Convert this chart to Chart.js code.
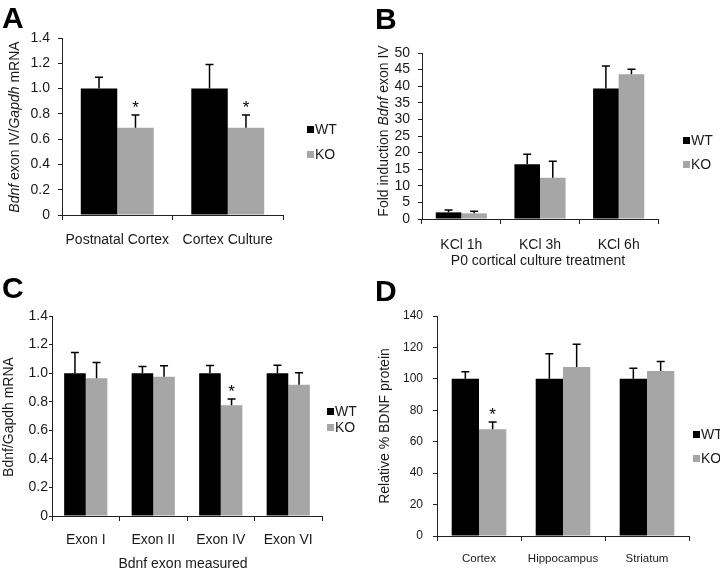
<!DOCTYPE html>
<html>
<head>
<meta charset="utf-8">
<script src="https://cdn.jsdelivr.net/npm/chart.js@4.4.0/dist/chart.umd.min.js"></script>
<style>
  body { margin: 0; background: #fff; }
  #fig { position: relative; width: 720px; height: 571px; overflow: hidden; font-family: "Liberation Sans", Arial, sans-serif; color: #1a1a1a; }
  canvas { position: absolute; }
  .letter { position: absolute; font-size: 30px; line-height: 30px; font-weight: bold; color: #000; }
  .ytitle { position: absolute; font-size: 14px; white-space: nowrap; transform: translate(-50%, -50%) rotate(-90deg); }
  .xtitle { position: absolute; font-size: 14px; line-height: 16px; white-space: nowrap; transform: translate(-50%, -50%); }
  .leg { position: absolute; height: 16px; line-height: 16px; font-size: 14px; display: flex; align-items: center; white-space: nowrap; }
  .leg span { display: inline-block; width: 7px; height: 7px; margin-right: 1px; }
</style>
</head>
<body>
<div id="fig">
  <canvas id="chartA" width="360" height="280" style="left:0;top:0"></canvas>
  <canvas id="chartB" width="360" height="280" style="left:360px;top:0"></canvas>
  <canvas id="chartC" width="360" height="291" style="left:0;top:280px"></canvas>
  <canvas id="chartD" width="360" height="291" style="left:360px;top:280px"></canvas>

  <div class="letter" style="left:2px;top:3px">A</div>
  <div class="letter" style="left:375px;top:4px">B</div>
  <div class="letter" style="left:2px;top:273px">C</div>
  <div class="letter" style="left:375px;top:276px">D</div>

  <div class="ytitle" style="left:14px;top:127px"><i>Bdnf</i> exon IV/<i>Gapdh</i> mRNA</div>
  <div class="ytitle" style="left:383px;top:131px">Fold induction <i>Bdnf</i> exon IV</div>
  <div class="ytitle" style="left:8px;top:417px">Bdnf/Gapdh mRNA</div>
  <div class="ytitle" style="left:384px;top:426px">Relative % BDNF protein</div>

  <div class="xtitle" style="left:538px;top:260px">P0 cortical culture treatment</div>
  <div class="xtitle" style="left:183px;top:563px">Bdnf exon measured</div>
</div>
<script>
// series
const seriesNames = ['WT', 'KO'];
const seriesColors = ['#000000', '#a6a6a6'];

// panel A
const labelsA = ['Postnatal Cortex', 'Cortex Culture'];
const wtA = [1.0, 1.0];
const koA = [0.69, 0.69];
const wtErrA = [0.09, 0.19];
const koErrA = [0.1, 0.1];
const sigA = [true, true];

// panel B
const labelsB = ['KCl 1h', 'KCl 3h', 'KCl 6h'];
const wtB = [2.0, 16.5, 39.3];
const koB = [1.7, 12.4, 43.6];
const wtErrB = [0.7, 3.0, 6.8];
const koErrB = [0.6, 5.0, 1.5];
const sigB = [false, false, false];

// panel C
const labelsC = ['Exon I', 'Exon II', 'Exon IV', 'Exon VI'];
const wtC = [1.0, 1.0, 1.0, 1.0];
const koC = [0.965, 0.975, 0.775, 0.918];
const wtErrC = [0.145, 0.047, 0.053, 0.055];
const koErrC = [0.11, 0.077, 0.044, 0.085];
const sigC = [false, false, true, false];

// panel D
const labelsD = ['Cortex', 'Hippocampus', 'Striatum'];
const wtD = [100, 100, 100];
const koD = [68, 107.5, 105];
const wtErrD = [4.5, 16, 6.8];
const koErrD = [4.5, 14.5, 6];
const sigD = [true, false, false];

// y axis ranges
const yMaxA = 1.4, yStepA = 0.2;
const yMaxB = 50, yStepB = 5;
const yMaxC = 1.4, yStepC = 0.2;
const yMaxD = 140, yStepD = 20;

const axisColor = '#222';
const textColor = '#1a1a1a';
const fontFam = '"Liberation Sans", Arial, sans-serif';

// draws the upward error bars and the significance stars
const errorBars = {
    id: 'errorBars',
    afterDatasetsDraw(chart) {
        const ctx = chart.ctx;
        const y = chart.scales.y;
        chart.data.datasets.forEach((ds, i) => {
            const meta = chart.getDatasetMeta(i);
            meta.data.forEach((bar, j) => {
                const top = y.getPixelForValue(ds.data[j] + ds.errors[j]);
                ctx.save();
                ctx.strokeStyle = '#000';
                ctx.lineWidth = 1.5;
                ctx.beginPath();
                ctx.moveTo(bar.x, bar.y);
                ctx.lineTo(bar.x, top);
                ctx.moveTo(bar.x - 4, top);
                ctx.lineTo(bar.x + 4, top);
                ctx.stroke();
                if (ds.sig && ds.sig[j]) {
                    ctx.fillStyle = '#000';
                    ctx.font = '17px ' + fontFam;
                    ctx.textAlign = 'center';
                    ctx.textBaseline = 'alphabetic';
                    ctx.fillText('*', bar.x, top - 2);
                }
                ctx.restore();
            });
        });
    }
};

function makeChart(id, labels, wt, ko, wtErr, koErr, sig, yMax, yStep, p) {
    const ctx = document.querySelector('#' + id);
    return new Chart(ctx, {
        type: 'bar',
        data: {
            labels: labels,
            datasets: [
                { label: seriesNames[0], data: wt, errors: wtErr, backgroundColor: seriesColors[0],
                  categoryPercentage: p.cat, barPercentage: 1 },
                { label: seriesNames[1], data: ko, errors: koErr, sig: sig, backgroundColor: seriesColors[1],
                  categoryPercentage: p.cat, barPercentage: 1 }
            ]
        },
        options: {
            responsive: false,
            animation: false,
            devicePixelRatio: 1,
            layout: { padding: { top: p.top, right: p.right, left: 0, bottom: 0 } },
            plugins: { legend: { display: false }, tooltip: { enabled: false } },
            scales: {
                x: {
                    grid: { offset: true, drawOnChartArea: false, drawTicks: true, tickLength: 5, color: axisColor },
                    border: { color: axisColor, width: 1 },
                    ticks: { color: textColor, font: { family: fontFam, size: p.xFont }, padding: p.xPad, maxRotation: 0 },
                    afterFit: s => { s.height = p.xH; }
                },
                y: {
                    min: 0, max: yMax,
                    grid: { drawOnChartArea: false, drawTicks: true, tickLength: p.yTick, color: axisColor },
                    border: { color: axisColor, width: 1 },
                    ticks: { stepSize: yStep, autoSkip: false, color: textColor, font: { family: fontFam, size: p.yFont }, padding: p.yPad },
                    afterFit: s => { s.width = p.yW; }
                }
            }
        },
        plugins: [errorBars]
    });
}

makeChart('chartA', labelsA, wtA, koA, wtErrA, koErrA, sigA, yMaxA, yStepA,
    { cat: 0.66, top: 38, right: 77, xH: 65, yW: 62, xFont: 14, yFont: 14, xPad: 12, yPad: 8, yTick: 4 });
makeChart('chartB', labelsB, wtB, koB, wtErrB, koErrB, sigB, yMaxB, yStepB,
    { cat: 0.65, top: 53, right: 62, xH: 61, yW: 62, xFont: 14, yFont: 14, xPad: 13, yPad: 8, yTick: 4 });
makeChart('chartC', labelsC, wtC, koC, wtErrC, koErrC, sigC, yMaxC, yStepC,
    { cat: 0.64, top: 36, right: 38, xH: 55, yW: 52, xFont: 14, yFont: 14, xPad: 11, yPad: 1, yTick: 3 });
makeChart('chartD', labelsD, wtD, koD, wtErrD, koErrD, sigD, yMaxD, yStepD,
    { cat: 0.65, top: 36, right: 31, xH: 35, yW: 77, xFont: 11.5, yFont: 12, xPad: 11, yPad: 10, yTick: 4 });

// legends, one per panel
const legendSpots = [
    { x: 307, y: [129, 154] },
    { x: 683, y: [140, 164] },
    { x: 327, y: [411, 427] },
    { x: 693, y: [434, 458] }
];
const fig = document.querySelector('#fig');
legendSpots.forEach(spot => {
    seriesNames.forEach((name, k) => {
        const d = document.createElement('div');
        d.className = 'leg';
        d.style.left = spot.x + 'px';
        d.style.top = (spot.y[k] - 8) + 'px';
        d.innerHTML = '<span style="background:' + seriesColors[k] + '"></span>' + name;
        fig.appendChild(d);
    });
});
</script>
</body>
</html>
